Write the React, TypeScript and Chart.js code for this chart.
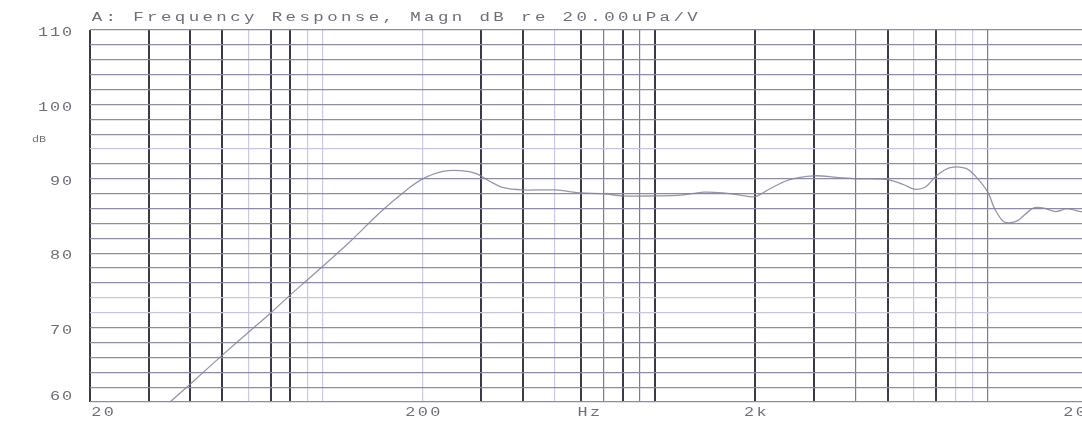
import React, { useEffect, useRef } from "react";
import { Chart, registerables } from "chart.js";

Chart.register(...registerables);

const TITLE = "A: Frequency Response, Magn dB re 20.00uPa/V";
const Y_UNIT = "dB";
const X_UNIT = "Hz";

const FREQS = [
  30, 35, 40, 50, 60, 70, 80, 90, 100, 120, 150, 180, 200, 230, 260, 290, 320,
  350, 400, 500, 600, 700, 800, 1000, 1200, 1400, 1600, 1800, 2000, 2200, 2500,
  3000, 3500, 4000, 5000, 5600, 6000, 6500, 7000, 7700, 8600, 9200, 10000,
  10500, 11200, 12200, 13600, 14600, 16000, 17300, 19000, 20000,
];
const MAGN_DB = [
  57.4, 60.1, 62.4, 66.3, 69.4, 72.0, 74.4, 76.4, 78.2, 81.4, 85.6, 88.6, 90.0,
  91.0, 91.1, 90.7, 89.6, 88.8, 88.5, 88.5, 88.1, 88.0, 87.7, 87.7, 87.8, 88.2,
  88.1, 87.8, 87.6, 88.6, 89.8, 90.4, 90.2, 90.0, 89.9, 89.2, 88.6, 88.9, 90.4,
  91.5, 91.4, 90.3, 88.2, 85.9, 84.2, 84.3, 86.0, 86.1, 85.6, 86.0, 85.6, 85.7,
];

const X_GRID = [
  20, 30, 40, 50, 60, 70, 80, 90, 100, 200, 300, 400, 500, 600, 700, 800, 900,
  1000, 2000, 3000, 4000, 5000, 6000, 7000, 8000, 9000, 10000, 20000,
];
const X_DARK = [20, 30, 40, 50, 70, 80, 300, 400, 600, 800, 1000, 2000, 3000, 5000, 7000];
const X_MEDIUM = [700, 900, 4000, 10000];
const Y_LIGHT = [94, 74, 72];

const Y_LABELS = [110, 100, 90, 80, 70, 60];
const X_LABEL_VALUES = [20, 200, 632, 2000, 20000];
const X_LABEL_TEXT = ["20", "200", X_UNIT, "2k", "20k"];

function drawSpaced(
  ctx: CanvasRenderingContext2D,
  text: string,
  left: number,
  y: number,
  pitch: number,
  sx: number
) {
  for (let i = 0; i < text.length; i++) {
    const ch = text[i];
    if (ch === " ") continue;
    ctx.save();
    ctx.translate(left + i * pitch + pitch / 2, y);
    ctx.scale(sx, 1);
    ctx.textAlign = "center";
    ctx.textBaseline = "middle";
    ctx.fillText(ch, 0, 0);
    ctx.restore();
  }
}

const textPlugin = {
  id: "plotterText",
  afterDraw(chart: any) {
    const ctx: CanvasRenderingContext2D = chart.ctx;
    const xs = chart.scales.x;
    const ys = chart.scales.y;
    ctx.save();
    ctx.fillStyle = "#6e6e78";
    ctx.font = "12px 'Liberation Mono', 'DejaVu Sans Mono', monospace";
    // title
    drawSpaced(ctx, TITLE, chart.chartArea.left, 18, 13.85, 1.45);
    // y labels
    const yPitch = 12;
    Y_LABELS.forEach((v) => {
      const s = String(v);
      let py = ys.getPixelForValue(v) + 3;
      if (v === 60) py -= 8;
      drawSpaced(ctx, s, 73 - s.length * yPitch, py, yPitch, 1.4);
    });
    ctx.font = "9px 'Liberation Mono', 'DejaVu Sans Mono', monospace";
    drawSpaced(ctx, Y_UNIT, 46 - Y_UNIT.length * 7, 140, 7, 1.3);
    // x labels
    ctx.font = "12px 'Liberation Mono', 'DejaVu Sans Mono', monospace";
    const last = X_LABEL_VALUES.length - 1;
    X_LABEL_VALUES.forEach((v, i) => {
      const s = X_LABEL_TEXT[i];
      const px = xs.getPixelForValue(v);
      const pitch = 12.5;
      let left = px - (s.length * pitch) / 2;
      if (i === 0) left = px;
      if (i === last) left = px - 26;
      drawSpaced(ctx, s, left, 413, pitch, 1.4);
    });
    ctx.restore();
  },
};

export default function App() {
  const ref = useRef<HTMLCanvasElement | null>(null);
  useEffect(() => {
    if (!ref.current) return;
    const data = FREQS.map((f, i) => ({ x: f, y: MAGN_DB[i] }));
    const chart = new Chart(ref.current, {
      type: "scatter",
      data: {
        datasets: [
          {
            data,
            showLine: true,
            borderColor: "rgba(130,130,155,0.85)",
            borderWidth: 1.3,
            pointRadius: 0,
            tension: 0.3,
          },
        ],
      },
      plugins: [textPlugin],
      options: {
        animation: false,
        responsive: false,
        events: [],
        layout: { padding: { left: 90, right: 12, top: 30, bottom: 21 } },
        plugins: { legend: { display: false }, tooltip: { enabled: false } },
        scales: {
          x: {
            type: "logarithmic",
            min: 20,
            max: 20000,
            afterBuildTicks: (scale: any) => {
              scale.ticks = X_GRID.map((v) => ({ value: v }));
            },
            ticks: { display: false },
            border: { display: false },
            grid: {
              drawTicks: false,
              color: (c: any) => {
                const v = c.tick && c.tick.value;
                if (X_DARK.includes(v)) return "#3a3a44";
                if (X_MEDIUM.includes(v)) return "#7a7a90";
                return "#c9c9e4";
              },
              lineWidth: (c: any) => {
                const v = c.tick && c.tick.value;
                if (X_DARK.includes(v)) return 2;
                return 1.2;
              },
            },
          },
          y: {
            min: 60,
            max: 110,
            ticks: { display: false, stepSize: 2 },
            border: { display: false },
            grid: {
              drawTicks: false,
              color: (c: any) => {
                const v = c.tick && c.tick.value;
                if (Y_LIGHT.includes(v)) return "#c6c6e2";
                return "#8c8ca4";
              },
              lineWidth: 1.2,
            },
          },
        },
      },
    });
    return () => chart.destroy();
  }, []);
  return (
    <div
      style={{
        position: "fixed",
        left: 0,
        top: 0,
        width: 1082,
        height: 423,
        overflow: "hidden",
        background: "#fff",
      }}
    >
      <canvas ref={ref} width={1100} height={423} style={{ display: "block" }} />
    </div>
  );
}
